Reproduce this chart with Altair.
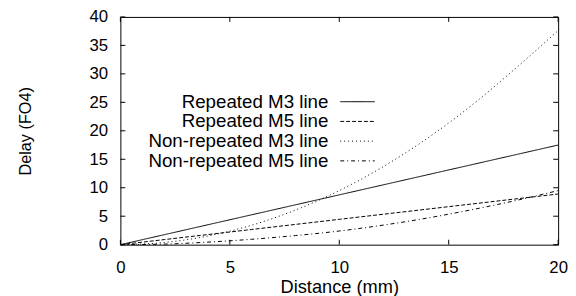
import altair as alt
import pandas as pd

# ---- data ----
distance = [0, 2, 4, 6, 8, 10, 12, 14, 16, 18, 20]
rep_m3 = [0, 1.75, 3.5, 5.25, 7.0, 8.75, 10.5, 12.25, 14.0, 15.75, 17.5]
rep_m5 = [0, 0.89, 1.78, 2.67, 3.56, 4.45, 5.34, 6.23, 7.12, 8.01, 8.9]
nonrep_m3 = [0, 0.38, 1.52, 3.42, 6.08, 9.5, 13.68, 18.62, 24.32, 30.78, 37.6]
nonrep_m5 = [0, 0.1, 0.45, 0.95, 1.6, 2.4, 3.43, 4.66, 6.1, 7.7, 9.5]

series = ["Repeated M3 line", "Repeated M5 line",
          "Non-repeated M3 line", "Non-repeated M5 line"]
dashes = [[1, 0], [4, 2], [1, 3], [4, 3, 1, 3]]

x_ticks = [0, 5, 10, 15, 20]
y_ticks = [0, 5, 10, 15, 20, 25, 30, 35, 40]

FONT = "Liberation Sans"
X_TITLE = "Distance (mm)"
Y_TITLE = "Delay (FO4)"

rows = []
for name, vals in zip(series, [rep_m3, rep_m5, nonrep_m3, nonrep_m5]):
    for d, v in zip(distance, vals):
        rows.append({"Distance": d, "Delay": v, "series": name})
df = pd.DataFrame(rows)

dash_scale = alt.Scale(domain=series, range=dashes)
x_scale = alt.Scale(domain=[0, 20], nice=False)
y_scale = alt.Scale(domain=[0, 40], nice=False)

lines = alt.Chart(df).mark_line(color="black", strokeWidth=1, interpolate="monotone").encode(
    x=alt.X("Distance:Q", scale=x_scale, title=X_TITLE,
            axis=alt.Axis(values=x_ticks, labelOverlap=False)),
    y=alt.Y("Delay:Q", scale=y_scale, title=Y_TITLE),
    strokeDash=alt.StrokeDash("series:N", scale=dash_scale, legend=None),
    detail="series:N",
)

xt = pd.DataFrame({"Distance": x_ticks})
yt = pd.DataFrame({"Delay": y_ticks})

tick_bottom = alt.Chart(xt).mark_rule(color="black", strokeWidth=1).encode(
    x=alt.X("Distance:Q", scale=x_scale, title=X_TITLE), y=alt.value(231), y2=alt.value(226))
tick_top = alt.Chart(xt).mark_rule(color="black", strokeWidth=1).encode(
    x=alt.X("Distance:Q", scale=x_scale, title=X_TITLE), y=alt.value(0), y2=alt.value(5))
tick_left = alt.Chart(yt).mark_rule(color="black", strokeWidth=1).encode(
    y=alt.Y("Delay:Q", scale=y_scale, title=Y_TITLE), x=alt.value(0), x2=alt.value(5))
tick_right = alt.Chart(yt).mark_rule(color="black", strokeWidth=1).encode(
    y=alt.Y("Delay:Q", scale=y_scale, title=Y_TITLE), x=alt.value(444), x2=alt.value(439))

# ---- legend (labels left of the line samples, as in the reference) ----
legend_layers = []
for i, name in enumerate(series):
    one = pd.DataFrame({"series": [name]})
    ypx = 86 + 20 * i
    legend_layers.append(
        alt.Chart(one).mark_text(align="right", baseline="middle", font=FONT,
                                 fontSize=19, color="black").encode(
            x=alt.value(211), y=alt.value(ypx), text="series:N"))
    legend_layers.append(
        alt.Chart(one).mark_rule(color="black", strokeWidth=1).encode(
            x=alt.value(223), x2=alt.value(258), y=alt.value(ypx),
            strokeDash=alt.StrokeDash("series:N", scale=dash_scale, legend=None)))

chart = alt.layer(lines, tick_bottom, tick_top, tick_left, tick_right,
                  *legend_layers).properties(
    width=444, height=231,
    padding={"left": 114, "top": 7, "right": 10, "bottom": 50},
    autosize=alt.AutoSizeParams(type="none"),
    background="white",
).configure_view(
    stroke="black", strokeWidth=1
).configure_axisX(
    grid=False, domain=False, ticks=False, labelFlush=False, labelOverlap=False,
    labelFont=FONT, labelFontSize=17, labelColor="black", labelPadding=15,
    titleFont=FONT, titleFontSize=18.5, titleFontWeight="normal",
    titleColor="black", titlePadding=3,
).configure_axisY(
    grid=False, domain=False, ticks=False, labelFlush=False, labelOverlap=False,
    labelFont=FONT, labelFontSize=17, labelColor="black", labelPadding=13,
    titleFont=FONT, titleFontSize=16.5, titleFontWeight="normal",
    titleColor="black", titlePadding=56,
)

chart.save("out.html", embed_options={"renderer": "svg", "actions": False})
